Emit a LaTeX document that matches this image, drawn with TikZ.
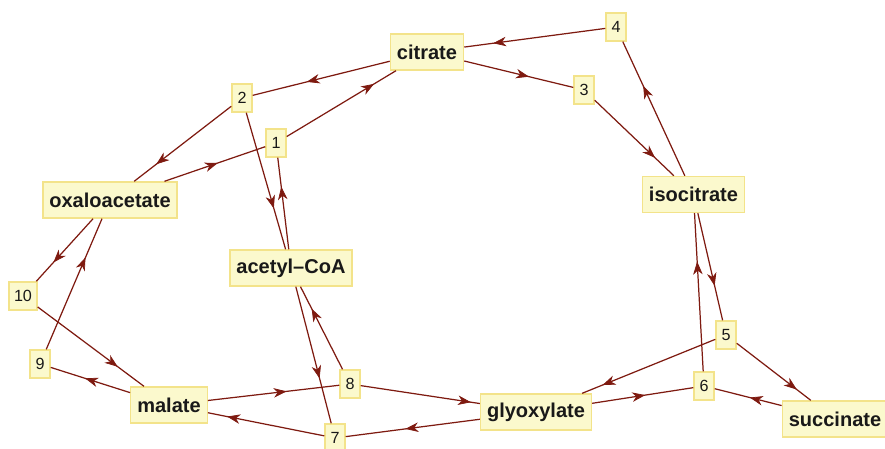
\documentclass[tikz,border=0pt]{standalone}
\usepackage{fontspec}
\usepackage{tikz}
\usetikzlibrary{arrows.meta,decorations.markings}
\setmainfont{Liberation Sans}
\definecolor{boxfill}{HTML}{FBF9CD}
\definecolor{boxline}{HTML}{F3E38A}
\definecolor{flowred}{HTML}{7E1A10}

\begin{document}
\begin{tikzpicture}[x=0.02cm,y=-0.02cm,
  metab/.style={draw=boxline,fill=boxfill,line width=0.8pt,inner xsep=0.13cm,minimum height=0.72cm,font=\fontsize{11.4}{13}\selectfont\bfseries,text=black!90},
  rxn/.style={draw=boxline,fill=boxfill,line width=0.8pt,inner xsep=0.1cm,minimum width=0.4cm,minimum height=0.56cm,font=\fontsize{9.2}{10}\selectfont,text=black!90},
  flow/.style={flowred,line width=0.7pt},
  midtip/.style={postaction={decorate},
    decoration={markings,mark=at position 0.65 with {\arrow[flowred]{Stealth[length=0.26cm,width=0.19cm,inset=0.08cm]}}}}]
\useasboundingbox (0,0) rectangle (885,449);
% Metabolites
\node[metab] (cit) at (427,52) {citrate};
\node[metab] (iso) at (693.5,194.5) {isocitrate};
\node[metab] (oxa) at (110,200) {oxaloacetate};
\node[metab] (acc) at (291,268) {acetyl--CoA};
\node[metab] (mal) at (169,405) {malate};
\node[metab] (gly) at (536,412) {glyoxylate};
\node[metab] (suc) at (835,419) {succinate};
% Reactions
\foreach \n/\x/\y in {1/276/143, 2/242/98, 3/584/90, 4/616/27, 5/726/335,
  6/704/386, 7/335/438, 8/350/384, 9/40/364, 10/23/296} {
  \node[rxn] (r\n) at (\x,\y) {\n};
}
% Connections, tips placed along the centre line
\foreach \a/\b in {oxa/r1, r1/cit, acc/r1, cit/r2, r2/oxa, r2/acc,
  cit/r3, r3/iso, iso/r4, r4/cit, iso/r5, r5/gly, r5/suc, suc/r6,
  r6/iso, gly/r6, mal/r8, r8/gly, r8/acc, acc/r7, gly/r7, r7/mal,
  mal/r9, r9/oxa, oxa/r10, r10/mal} {
  \draw[flow] (\a) -- (\b);
  \path[midtip] (\a.center) -- (\b.center);
}
\end{tikzpicture}
\end{document}
